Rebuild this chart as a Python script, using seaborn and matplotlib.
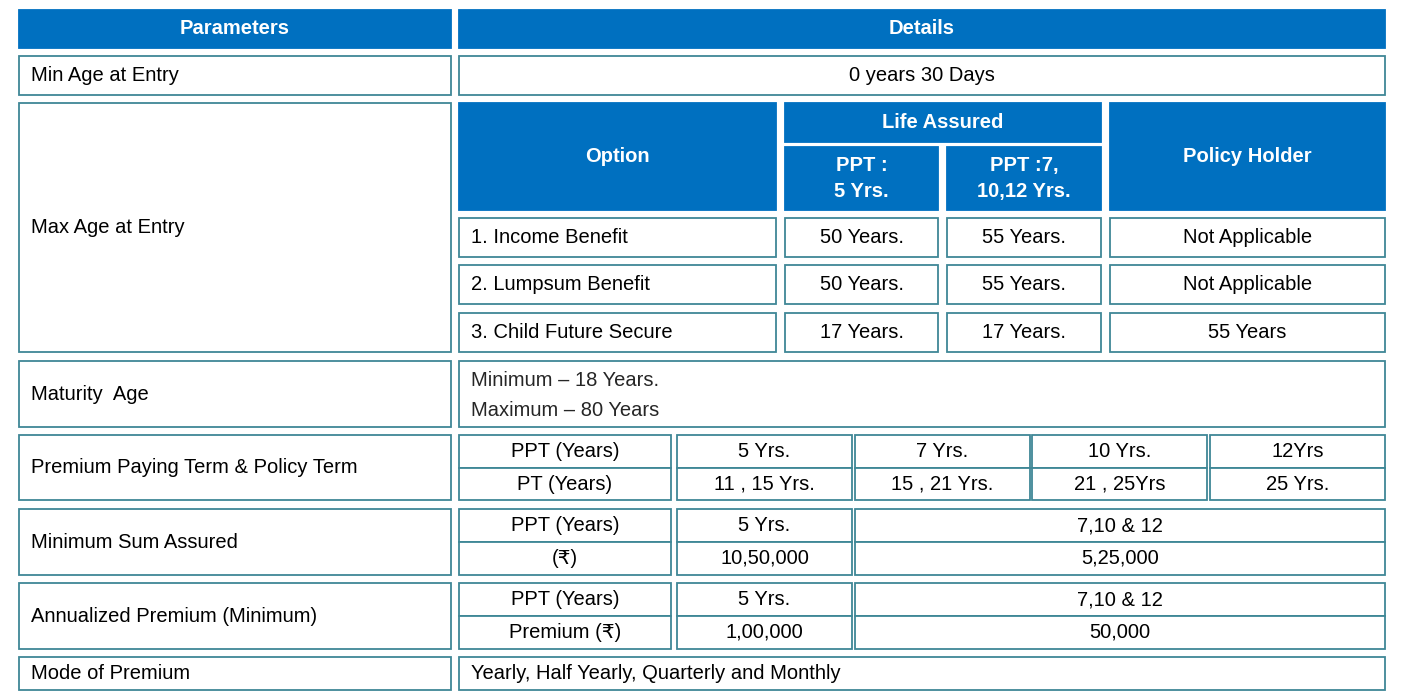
import matplotlib
matplotlib.use("Agg")
import matplotlib.pyplot as plt
import seaborn as sns
from matplotlib.patches import Rectangle

sns.set_theme(style="white")
plt.rcParams['font.family'] = ['Liberation Sans', 'DejaVu Sans']

BLUE = "#0070C0"
EDGE = "#3F8796"

# data
headers = ["Parameters", "Details"]
params = ["Min Age at Entry", "Max Age at Entry", "Maturity  Age",
          "Premium Paying Term & Policy Term", "Minimum Sum Assured",
          "Annualized Premium (Minimum)", "Mode of Premium"]
min_age = "0 years 30 Days"
max_age_head = ["Option", "Life Assured", "PPT :\n5 Yrs.", "PPT :7,\n10,12 Yrs.", "Policy Holder"]
options = ["1. Income Benefit", "2. Lumpsum Benefit", "3. Child Future Secure"]
age_ppt5 = ["50 Years.", "50 Years.", "17 Years."]
age_ppt7 = ["55 Years.", "55 Years.", "17 Years."]
age_holder = ["Not Applicable", "Not Applicable", "55 Years"]
maturity = ["Minimum \u2013 18 Years.", "Maximum \u2013 80 Years"]
ppt_row = ["PPT (Years)", "5 Yrs.", "7 Yrs.", "10 Yrs.", "12Yrs"]
pt_row = ["PT (Years)", "11 , 15 Yrs.", "15 , 21 Yrs.", "21 , 25Yrs", "25 Yrs."]
sa_rows = [["PPT (Years)", "5 Yrs.", "7,10 & 12"], ["(\u20b9)", "10,50,000", "5,25,000"]]
ap_rows = [["PPT (Years)", "5 Yrs.", "7,10 & 12"], ["Premium (\u20b9)", "1,00,000", "50,000"]]
mode = "Yearly, Half Yearly, Quarterly and Monthly"

fig = plt.figure(figsize=(14.21, 6.97), dpi=100)
ax = fig.add_axes([0, 0, 1, 1])
ax.set_xlim(0, 1421)
ax.set_ylim(697, 0)
ax.axis("off")


def cell(x0, x1, y0, y1, text="", head=False, align="center", fs=14.5, pad=12):
    ax.add_patch(Rectangle((x0, y0), x1 - x0, y1 - y0,
                           facecolor=BLUE if head else "white",
                           edgecolor=BLUE if head else EDGE, lw=1.3))
    if text:
        x = (x0 + x1) / 2 if align == "center" else x0 + pad
        ax.text(x, (y0 + y1) / 2, text, ha=align, va="center", fontsize=fs,
                color="white" if head else "black",
                fontweight="bold" if head else "normal", linespacing=1.5)


L0, L1, R0, R1 = 19, 451, 459, 1385
cell(L0, L1, 10, 48, headers[0], head=True)
cell(R0, R1, 10, 48, headers[1], head=True)

# left parameter column
left_rows = [(56, 95), (103, 352), (361, 427), (435, 500), (509, 575), (583, 649), (657, 690)]
for name, (y0, y1) in zip(params, left_rows):
    cell(L0, L1, y0, y1, name, align="left")

cell(R0, R1, 56, 95, min_age)

# max age block
cell(459, 776, 103, 210, max_age_head[0], head=True)
cell(785, 1101, 103, 142, max_age_head[1], head=True)
cell(785, 938, 147, 210, max_age_head[2], head=True)
cell(947, 1101, 147, 210, max_age_head[3], head=True)
cell(1110, 1385, 103, 210, max_age_head[4], head=True)
for i, ys in enumerate([(218, 257), (265, 304), (313, 352)]):
    cell(459, 776, *ys, options[i], align="left")
    cell(785, 938, *ys, age_ppt5[i])
    cell(947, 1101, *ys, age_ppt7[i])
    cell(1110, 1385, *ys, age_holder[i])

# maturity
cell(R0, R1, 361, 427)
ax.text(471, 381, maturity[0], ha="left", va="center", fontsize=14.5)
ax.text(471, 411, maturity[1], ha="left", va="center", fontsize=14.5)

# PPT & PT
cols5 = [(459, 671), (677, 852), (855, 1030), (1032, 1207), (1210, 1385)]
for (x0, x1), a, b in zip(cols5, ppt_row, pt_row):
    cell(x0, x1, 435, 468, a)
    cell(x0, x1, 468, 500, b)

# sum assured & premium
cols3 = [(459, 671), (677, 852), (855, 1385)]
for rows, top in [(sa_rows, 509), (ap_rows, 583)]:
    for r, (y0, y1) in enumerate([(top, top + 33), (top + 33, top + 66)]):
        for (x0, x1), t in zip(cols3, rows[r]):
            cell(x0, x1, y0, y1, t)

cell(R0, R1, 657, 690, mode, align="left")

fig.savefig("out.png", dpi=100)
